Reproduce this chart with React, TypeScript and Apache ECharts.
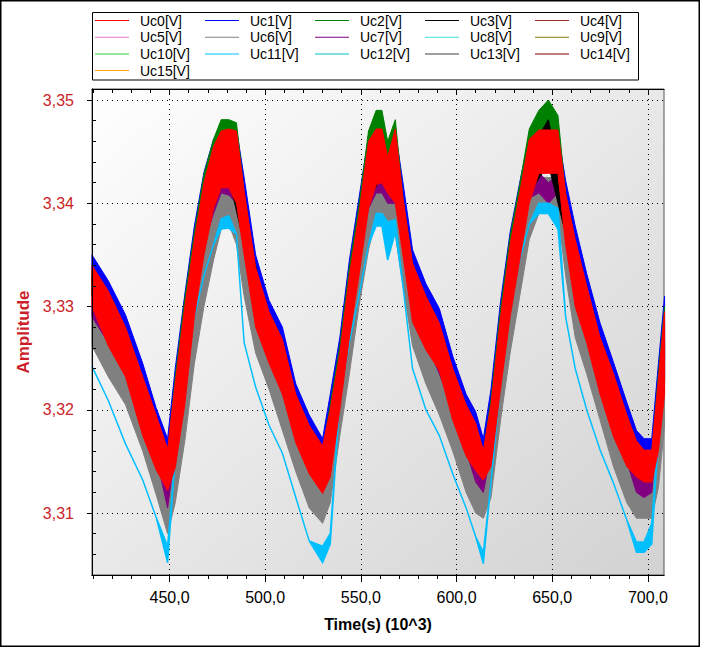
import { useEffect, useRef } from 'react'
import * as echarts from 'echarts'

// time axis samples (s x 10^3)
const TIME = [
  409.5, 418, 427, 436, 443, 449, 453, 458, 463, 468,
  473, 477, 481, 485, 489, 495, 502, 509, 516, 523,
  530, 534, 539, 544, 549, 554, 558, 561, 564, 568,
  572, 577, 584, 591, 598, 605, 610, 614, 618, 623,
  628, 633, 638, 643, 648, 653, 657, 662, 668, 675,
  682, 689, 694, 698, 702, 705.5, 708.7,
]

const TIME_COARSE = [
  409.5, 427, 443, 449, 453, 463, 473, 481, 489, 502,
  516, 530, 534, 544, 554, 561, 568, 577, 591, 605,
  614, 618, 628, 638, 648, 657, 668, 682, 694, 702, 708.7,
]

// noisy channels: lower / upper edge of the band they fill
const uc0Lo = [
  3.3300, 3.3262, 3.3232, 3.3175, 3.3142, 3.3122, 3.3144, 3.3205, 3.3290, 3.3350,
  3.3395, 3.3415, 3.3415, 3.3400, 3.3350, 3.3280, 3.3245, 3.3215, 3.3168, 3.3138,
  3.3119, 3.3135, 3.3200, 3.3270, 3.3330, 3.3395, 3.3418, 3.3420, 3.3410, 3.3400,
  3.3350, 3.3285, 3.3258, 3.3238, 3.3190, 3.3155, 3.3141, 3.3132, 3.3145, 3.3220,
  3.3290, 3.3345, 3.3400, 3.3429, 3.3429, 3.3429, 3.3360, 3.3300, 3.3265, 3.3215,
  3.3174, 3.3145, 3.3135, 3.3130, 3.3130, 3.3160, 3.3215,
]
const uc0Hi = [
  3.3340, 3.3315, 3.3280, 3.3232, 3.3195, 3.3162, 3.3226, 3.3300, 3.3365, 3.3420,
  3.3455, 3.3470, 3.3472, 3.3470, 3.3412, 3.3338, 3.3295, 3.3268, 3.3215, 3.3185,
  3.3165, 3.3200, 3.3255, 3.3330, 3.3390, 3.3460, 3.3472, 3.3472, 3.3445, 3.3472,
  3.3405, 3.3342, 3.3310, 3.3284, 3.3240, 3.3205, 3.3187, 3.3161, 3.3205, 3.3290,
  3.3360, 3.3410, 3.3462, 3.3471, 3.3471, 3.3471, 3.3410, 3.3365, 3.3320, 3.3270,
  3.3235, 3.3195, 3.3170, 3.3161, 3.3161, 3.3230, 3.3295,
]
const uc1Lo = [
  3.3310, 3.3275, 3.3245, 3.3190, 3.3155, 3.3135, 3.3160, 3.3220, 3.3305, 3.3362,
  3.3405, 3.3420, 3.3420, 3.3410, 3.3365, 3.3295, 3.3258, 3.3228, 3.3180, 3.3150,
  3.3135, 3.3150, 3.3215, 3.3285, 3.3345, 3.3405, 3.3420, 3.3420, 3.3415, 3.3410,
  3.3365, 3.3300, 3.3270, 3.3250, 3.3205, 3.3168, 3.3152, 3.3145, 3.3160, 3.3235,
  3.3305, 3.3358, 3.3410, 3.3430, 3.3430, 3.3430, 3.3375, 3.3315, 3.3278, 3.3228,
  3.3188, 3.3158, 3.3148, 3.3145, 3.3145, 3.3175, 3.3230,
]
const uc1Hi = [
  3.3350, 3.3325, 3.3292, 3.3245, 3.3202, 3.3172, 3.3240, 3.3312, 3.3378, 3.3430,
  3.3462, 3.3470, 3.3470, 3.3472, 3.3425, 3.3350, 3.3306, 3.3280, 3.3225, 3.3195,
  3.3172, 3.3215, 3.3270, 3.3345, 3.3405, 3.3465, 3.3468, 3.3468, 3.3450, 3.3470,
  3.3420, 3.3355, 3.3322, 3.3298, 3.3252, 3.3215, 3.3198, 3.3172, 3.3220, 3.3305,
  3.3372, 3.3420, 3.3466, 3.3468, 3.3468, 3.3468, 3.3422, 3.3378, 3.3332, 3.3284,
  3.3246, 3.3207, 3.3180, 3.3172, 3.3172, 3.3245, 3.3310,
]
const uc2Lo = [
  3.3310, 3.3275, 3.3245, 3.3190, 3.3155, 3.3135, 3.3160, 3.3220, 3.3305, 3.3362,
  3.3405, 3.3425, 3.3430, 3.3415, 3.3365, 3.3295, 3.3258, 3.3228, 3.3180, 3.3150,
  3.3130, 3.3150, 3.3215, 3.3285, 3.3345, 3.3405, 3.3430, 3.3430, 3.3420, 3.3415,
  3.3365, 3.3300, 3.3270, 3.3250, 3.3205, 3.3168, 3.3152, 3.3145, 3.3160, 3.3235,
  3.3305, 3.3358, 3.3412, 3.3440, 3.3440, 3.3440, 3.3375, 3.3315, 3.3278, 3.3228,
  3.3188, 3.3158, 3.3148, 3.3145, 3.3145, 3.3175, 3.3230,
]
const uc2Hi = [
  3.3335, 3.3308, 3.3275, 3.3228, 3.3190, 3.3158, 3.3232, 3.3308, 3.3372, 3.3428,
  3.3462, 3.3481, 3.3481, 3.3478, 3.3410, 3.3335, 3.3290, 3.3262, 3.3210, 3.3180,
  3.3160, 3.3205, 3.3262, 3.3338, 3.3398, 3.3470, 3.3490, 3.3490, 3.3460, 3.3481,
  3.3405, 3.3340, 3.3305, 3.3280, 3.3235, 3.3200, 3.3182, 3.3158, 3.3210, 3.3298,
  3.3368, 3.3418, 3.3472, 3.3490, 3.3500, 3.3485, 3.3408, 3.3360, 3.3315, 3.3265,
  3.3230, 3.3190, 3.3165, 3.3158, 3.3158, 3.3235, 3.3300,
]
const uc6Lo = [
  3.3262, 3.3232, 3.3205, 3.3160, 3.3118, 3.3080, 3.3110, 3.3170, 3.3245, 3.3300,
  3.3345, 3.3375, 3.3380, 3.3360, 3.3310, 3.3255, 3.3220, 3.3180, 3.3140, 3.3105,
  3.3090, 3.3110, 3.3175, 3.3235, 3.3300, 3.3355, 3.3385, 3.3390, 3.3380, 3.3370,
  3.3320, 3.3262, 3.3225, 3.3195, 3.3160, 3.3120, 3.3100, 3.3095, 3.3115, 3.3190,
  3.3255, 3.3310, 3.3365, 3.3390, 3.3395, 3.3390, 3.3330, 3.3270, 3.3235, 3.3190,
  3.3145, 3.3110, 3.3095, 3.3095, 3.3095, 3.3125, 3.3185,
]
const uc6Hi = [
  3.3300, 3.3275, 3.3245, 3.3205, 3.3165, 3.3115, 3.3170, 3.3245, 3.3320, 3.3370,
  3.3400, 3.3420, 3.3420, 3.3410, 3.3370, 3.3305, 3.3270, 3.3235, 3.3190, 3.3155,
  3.3130, 3.3165, 3.3230, 3.3295, 3.3355, 3.3405, 3.3420, 3.3420, 3.3410, 3.3410,
  3.3375, 3.3315, 3.3275, 3.3245, 3.3210, 3.3170, 3.3140, 3.3130, 3.3170, 3.3255,
  3.3320, 3.3375, 3.3415, 3.3425, 3.3425, 3.3425, 3.3385, 3.3330, 3.3290, 3.3240,
  3.3200, 3.3160, 3.3130, 3.3125, 3.3130, 3.3200, 3.3260,
]
const uc7Lo = [
  3.3290, 3.3265, 3.3235, 3.3195, 3.3155, 3.3105, 3.3160, 3.3235, 3.3310, 3.3360,
  3.3390, 3.3410, 3.3408, 3.3400, 3.3360, 3.3295, 3.3260, 3.3225, 3.3180, 3.3145,
  3.3120, 3.3155, 3.3220, 3.3285, 3.3345, 3.3395, 3.3410, 3.3410, 3.3400, 3.3400,
  3.3365, 3.3305, 3.3265, 3.3235, 3.3200, 3.3160, 3.3130, 3.3120, 3.3160, 3.3245,
  3.3310, 3.3365, 3.3405, 3.3410, 3.3400, 3.3410, 3.3375, 3.3320, 3.3280, 3.3230,
  3.3190, 3.3150, 3.3120, 3.3115, 3.3120, 3.3190, 3.3250,
]
const uc7Hi = [
  3.3308, 3.3283, 3.3253, 3.3213, 3.3173, 3.3125, 3.3180, 3.3255, 3.3330, 3.3380,
  3.3410, 3.3428, 3.3425, 3.3418, 3.3378, 3.3313, 3.3278, 3.3243, 3.3198, 3.3163,
  3.3140, 3.3175, 3.3240, 3.3305, 3.3365, 3.3415, 3.3428, 3.3428, 3.3418, 3.3418,
  3.3383, 3.3323, 3.3283, 3.3253, 3.3218, 3.3178, 3.3150, 3.3140, 3.3180, 3.3265,
  3.3330, 3.3385, 3.3425, 3.3430, 3.3420, 3.3428, 3.3393, 3.3338, 3.3298, 3.3248,
  3.3208, 3.3168, 3.3140, 3.3135, 3.3140, 3.3210, 3.3268,
]
const uc11Lo = [
  3.3242, 3.3209, 3.3167, 3.3132, 3.3096, 3.3052, 3.3154, 3.3251, 3.3290, 3.3330,
  3.3360, 3.3375, 3.3376, 3.3370, 3.3265, 3.3222, 3.3185, 3.3158, 3.3115, 3.3073,
  3.3052, 3.3070, 3.3210, 3.3265, 3.3310, 3.3360, 3.3378, 3.3378, 3.3345, 3.3372,
  3.3320, 3.3240, 3.3200, 3.3175, 3.3138, 3.3105, 3.3077, 3.3051, 3.3130, 3.3225,
  3.3300, 3.3345, 3.3380, 3.3390, 3.3390, 3.3375, 3.3290, 3.3240, 3.3200, 3.3161,
  3.3129, 3.3093, 3.3062, 3.3062, 3.3070, 3.3175, 3.3220,
]
const uc11Hi = [
  3.3242, 3.3209, 3.3167, 3.3132, 3.3096, 3.3068, 3.3154, 3.3251, 3.3290, 3.3330,
  3.3360, 3.3385, 3.3388, 3.3370, 3.3265, 3.3222, 3.3185, 3.3158, 3.3115, 3.3073,
  3.3068, 3.3080, 3.3210, 3.3265, 3.3310, 3.3360, 3.3390, 3.3390, 3.3382, 3.3384,
  3.3320, 3.3240, 3.3200, 3.3175, 3.3138, 3.3105, 3.3077, 3.3062, 3.3130, 3.3225,
  3.3300, 3.3345, 3.3380, 3.3400, 3.3400, 3.3395, 3.3290, 3.3240, 3.3200, 3.3161,
  3.3129, 3.3093, 3.3072, 3.3072, 3.3090, 3.3175, 3.3220,
]
const uc3Lo = [
  3.3310, 3.3242, 3.3152, 3.3130, 3.3156, 3.3300, 3.3405, 3.3425, 3.3360, 3.3255,
  3.3178, 3.3128, 3.3146, 3.3280, 3.3405, 3.3425, 3.3405, 3.3295, 3.3248, 3.3165,
  3.3140, 3.3156, 3.3300, 3.3410, 3.3438, 3.3370, 3.3275, 3.3184, 3.3144, 3.3140, 3.3225,
]
const uc3Hi = [
  3.3330, 3.3270, 3.3185, 3.3152, 3.3212, 3.3352, 3.3445, 3.3462, 3.3390, 3.3280,
  3.3205, 3.3155, 3.3188, 3.3318, 3.3450, 3.3440, 3.3438, 3.3330, 3.3273, 3.3195,
  3.3152, 3.3192, 3.3348, 3.3450, 3.3481, 3.3398, 3.3308, 3.3224, 3.3160, 3.3152, 3.3283,
]

// channels hidden under the red band
const uc4 = [
  3.3318, 3.3252, 3.3166, 3.3140, 3.3182, 3.3325, 3.3422, 3.3440, 3.3378, 3.3268,
  3.3190, 3.3140, 3.3165, 3.3298, 3.3425, 3.3443, 3.3432, 3.3311, 3.3258, 3.3178,
  3.3145, 3.3172, 3.3322, 3.3428, 3.3447, 3.3382, 3.3290, 3.3202, 3.3150, 3.3144, 3.3252,
]
const uc5 = [
  3.3322, 3.3258, 3.3172, 3.3145, 3.3188, 3.3330, 3.3428, 3.3446, 3.3384, 3.3273,
  3.3195, 3.3145, 3.3170, 3.3303, 3.3430, 3.3448, 3.3438, 3.3316, 3.3263, 3.3183,
  3.3150, 3.3178, 3.3328, 3.3434, 3.3452, 3.3388, 3.3296, 3.3208, 3.3156, 3.3149, 3.3258,
]
const uc8 = [
  3.3315, 3.3250, 3.3163, 3.3138, 3.3180, 3.3322, 3.3420, 3.3438, 3.3375, 3.3265,
  3.3187, 3.3138, 3.3162, 3.3295, 3.3422, 3.3440, 3.3430, 3.3308, 3.3255, 3.3175,
  3.3142, 3.3170, 3.3320, 3.3426, 3.3445, 3.3380, 3.3288, 3.3200, 3.3148, 3.3142, 3.3250,
]
const uc9 = [
  3.3324, 3.3260, 3.3174, 3.3146, 3.3190, 3.3332, 3.3430, 3.3448, 3.3386, 3.3275,
  3.3197, 3.3146, 3.3172, 3.3305, 3.3432, 3.3450, 3.3440, 3.3318, 3.3265, 3.3185,
  3.3151, 3.3180, 3.3330, 3.3436, 3.3454, 3.3390, 3.3298, 3.3210, 3.3157, 3.3150, 3.3260,
]
const uc10 = [
  3.3319, 3.3254, 3.3168, 3.3141, 3.3184, 3.3326, 3.3424, 3.3442, 3.3380, 3.3269,
  3.3191, 3.3141, 3.3167, 3.3299, 3.3426, 3.3444, 3.3434, 3.3312, 3.3260, 3.3179,
  3.3146, 3.3174, 3.3324, 3.3430, 3.3448, 3.3384, 3.3292, 3.3204, 3.3152, 3.3145, 3.3254,
]
const uc12 = [
  3.3316, 3.3251, 3.3165, 3.3139, 3.3181, 3.3323, 3.3421, 3.3439, 3.3376, 3.3266,
  3.3188, 3.3139, 3.3163, 3.3296, 3.3423, 3.3441, 3.3431, 3.3309, 3.3256, 3.3176,
  3.3143, 3.3171, 3.3321, 3.3427, 3.3446, 3.3381, 3.3289, 3.3201, 3.3149, 3.3143, 3.3251,
]
const uc13 = [
  3.3312, 3.3248, 3.3160, 3.3135, 3.3178, 3.3320, 3.3418, 3.3436, 3.3372, 3.3262,
  3.3185, 3.3136, 3.3160, 3.3292, 3.3420, 3.3438, 3.3428, 3.3305, 3.3252, 3.3172,
  3.3140, 3.3168, 3.3318, 3.3424, 3.3443, 3.3378, 3.3285, 3.3198, 3.3146, 3.3140, 3.3248,
]
const uc14 = [
  3.3321, 3.3257, 3.3170, 3.3143, 3.3186, 3.3329, 3.3426, 3.3445, 3.3382, 3.3271,
  3.3193, 3.3143, 3.3169, 3.3301, 3.3429, 3.3447, 3.3437, 3.3315, 3.3262, 3.3181,
  3.3148, 3.3176, 3.3326, 3.3432, 3.3451, 3.3386, 3.3294, 3.3206, 3.3154, 3.3147, 3.3256,
]
const uc15 = [
  3.3326, 3.3262, 3.3176, 3.3148, 3.3192, 3.3334, 3.3432, 3.3450, 3.3388, 3.3277,
  3.3199, 3.3148, 3.3174, 3.3307, 3.3434, 3.3452, 3.3442, 3.3320, 3.3267, 3.3187,
  3.3153, 3.3182, 3.3332, 3.3438, 3.3456, 3.3392, 3.3300, 3.3212, 3.3159, 3.3152, 3.3262,
]

const X_MAJOR = [450, 500, 550, 600, 650, 700]
const X_MINOR = [
  410, 420, 430, 440, 460, 470, 480, 490, 510, 520, 530, 540, 560, 570, 580, 590,
  610, 620, 630, 640, 660, 670, 680, 690,
]
const Y_MAJOR = [3.31, 3.32, 3.33, 3.34, 3.35]
const Y_MINOR = [
  3.306, 3.308, 3.312, 3.314, 3.316, 3.318, 3.322, 3.324, 3.326, 3.328,
  3.332, 3.334, 3.336, 3.338, 3.342, 3.344, 3.346, 3.348,
]

// legend rows as laid out in the picture
const LEGEND_ROWS = [
  ['Uc0[V]', 'Uc1[V]', 'Uc2[V]', 'Uc3[V]', 'Uc4[V]'],
  ['Uc5[V]', 'Uc6[V]', 'Uc7[V]', 'Uc8[V]', 'Uc9[V]'],
  ['Uc10[V]', 'Uc11[V]', 'Uc12[V]', 'Uc13[V]', 'Uc14[V]'],
  ['Uc15[V]'],
]

const X_MIN = 409.5
const X_MAX = 708.4
const Y_MIN = 3.304
const Y_MAX = 3.35107
const LABEL_RED = '#cc1f2a'
const FONT = "'Liberation Sans', Arial, Helvetica, sans-serif"
const GRID_DOTS = { color: '#000', type: [1, 4], width: 1 }

function band(name: string, color: string, xs: number[], lo: number[], hi: number[], z: number, lineWidth = 1) {
  return {
    name,
    type: 'custom',
    z,
    itemStyle: { color },
    encode: { x: 0, y: [1, 2] },
    data: xs.map((x, i) => [x, lo[i], hi[i]]),
    renderItem: (params: any, api: any) => {
      if (params.dataIndexInside !== 0) {
        return null
      }
      const upper: number[][] = []
      const lower: number[][] = []
      for (let j = 0; j < params.dataInsideLength; j++) {
        const x = api.value(0, j)
        upper.push(api.coord([x, api.value(2, j)]))
        lower.push(api.coord([x, api.value(1, j)]))
      }
      return {
        type: 'polygon',
        shape: { points: upper.concat(lower.reverse()) },
        style: { fill: color, stroke: color, lineWidth },
      }
    },
  }
}

function trace(name: string, color: string, values: number[]) {
  return {
    name,
    type: 'line',
    z: 2,
    symbol: 'none',
    color,
    lineStyle: { color, width: 1 },
    data: TIME_COARSE.map((x, i) => [x, values[i]]),
  }
}

const tickAxisBase = {
  type: 'value',
  min: X_MIN,
  max: X_MAX,
  axisLabel: { show: false },
  splitLine: { show: false },
}

export default function App() {
  const chartRef = useRef<HTMLDivElement | null>(null)

  useEffect(() => {
    document.body.style.margin = '0'
    document.body.style.overflow = 'hidden'
    if (!chartRef.current) {
      return
    }

    const chart = echarts.init(chartRef.current, undefined, { renderer: 'svg' })
    chart.setOption({
      animation: false,
      textStyle: { fontFamily: FONT },
      legend: LEGEND_ROWS.map((row, r) => ({
        left: 95,
        top: 13.5 + r * 16.7,
        padding: 0,
        itemGap: 6,
        itemWidth: 34,
        itemHeight: 1,
        icon: 'rect',
        selectedMode: false,
        textStyle: { fontSize: 14, color: '#000', width: 59, lineHeight: 11, padding: [0, 0, 0, 6] },
        data: row,
      })),
      grid: {
        left: 92,
        top: 89,
        width: 572,
        height: 486,
        show: true,
        borderColor: '#555',
        borderWidth: 1,
        backgroundColor: new echarts.graphic.LinearGradient(0, 0, 1, 1, [
          { offset: 0, color: '#ffffff' },
          { offset: 1, color: '#d2d2d2' },
        ]),
      },
      xAxis: [
        {
          type: 'value',
          position: 'bottom',
          min: X_MIN,
          max: X_MAX,
          name: 'Time(s) (10^3)',
          nameLocation: 'middle',
          nameGap: 41,
          nameTextStyle: { color: '#000', fontWeight: 'bold', fontSize: 16 },
          axisLine: { lineStyle: { color: '#000' } },
          axisTick: { customValues: X_MAJOR, length: 7, lineStyle: { color: '#000' } },
          axisLabel: {
            customValues: X_MAJOR,
            color: '#000',
            fontSize: 16,
            margin: 14,
            formatter: (v: number) => v.toFixed(1).replace('.', ','),
          },
          splitLine: { show: true, lineStyle: GRID_DOTS },
        },
        {
          ...tickAxisBase,
          position: 'bottom',
          z: 10,
          axisLine: { show: true, lineStyle: { color: '#000' } },
          axisTick: { customValues: X_MINOR, length: 4, lineStyle: { color: '#000' } },
        },
        {
          ...tickAxisBase,
          position: 'top',
          z: 10,
          axisLine: { show: true, lineStyle: { color: '#000' } },
          axisTick: { customValues: X_MINOR, inside: true, length: 4, lineStyle: { color: '#000' } },
        },
        {
          ...tickAxisBase,
          position: 'top',
          axisLine: { show: false },
          axisTick: { customValues: X_MAJOR, inside: true, length: 6, lineStyle: { color: '#000' } },
        },
      ],
      yAxis: [
        {
          type: 'value',
          position: 'left',
          min: Y_MIN,
          max: Y_MAX,
          name: 'Amplitude',
          nameLocation: 'middle',
          nameGap: 59,
          nameTextStyle: { color: LABEL_RED, fontWeight: 'bold', fontSize: 17 },
          axisLine: { show: true, lineStyle: { color: '#000' } },
          axisTick: { show: true, customValues: Y_MAJOR, length: 5, lineStyle: { color: '#000' } },
          axisLabel: {
            customValues: Y_MAJOR,
            color: LABEL_RED,
            fontSize: 16,
            margin: 18,
            formatter: (v: number) => v.toFixed(2).replace('.', ','),
          },
          splitLine: { show: true, lineStyle: GRID_DOTS },
        },
        {
          type: 'value',
          position: 'left',
          min: Y_MIN,
          max: Y_MAX,
          z: 10,
          axisLine: { show: true, lineStyle: { color: '#000' } },
          axisTick: { show: true, customValues: Y_MINOR, inside: true, length: 4, lineStyle: { color: '#000' } },
          axisLabel: { show: false },
          splitLine: { show: false },
        },
      ],
      series: [
        band('Uc0[V]', '#ff0000', TIME, uc0Lo, uc0Hi, 9),
        band('Uc1[V]', '#0000ff', TIME, uc1Lo, uc1Hi, 6),
        band('Uc2[V]', '#008000', TIME, uc2Lo, uc2Hi, 7),
        band('Uc3[V]', '#000000', TIME_COARSE, uc3Lo, uc3Hi, 8),
        trace('Uc4[V]', '#a52a2a', uc4),
        trace('Uc5[V]', '#e07ac0', uc5),
        band('Uc6[V]', '#808080', TIME, uc6Lo, uc6Hi, 3),
        band('Uc7[V]', '#800080', TIME, uc7Lo, uc7Hi, 4),
        trace('Uc8[V]', '#40e0e0', uc8),
        trace('Uc9[V]', '#808000', uc9),
        trace('Uc10[V]', '#32cd32', uc10),
        band('Uc11[V]', '#00bfff', TIME, uc11Lo, uc11Hi, 5, 1.5),
        trace('Uc12[V]', '#00c0c0', uc12),
        trace('Uc13[V]', '#404040', uc13),
        trace('Uc14[V]', '#800000', uc14),
        trace('Uc15[V]', '#ffa500', uc15),
      ],
      graphic: [
        {
          type: 'rect',
          silent: true,
          z: 0,
          shape: { x: 92.5, y: 12.5, width: 546, height: 67.5 },
          style: { fill: '#fff', stroke: '#000', lineWidth: 1 },
        },
        {
          type: 'rect',
          silent: true,
          z: 100,
          shape: { x: 0.75, y: 0.75, width: 698.5, height: 645.5 },
          style: { fill: 'none', stroke: '#000', lineWidth: 1.5 },
        },
      ],
    })

    const resize = () => chart.resize()
    window.addEventListener('resize', resize)
    return () => {
      window.removeEventListener('resize', resize)
      chart.dispose()
    }
  }, [])

  return <div ref={chartRef} style={{ width: 701, height: 648 }} />
}
